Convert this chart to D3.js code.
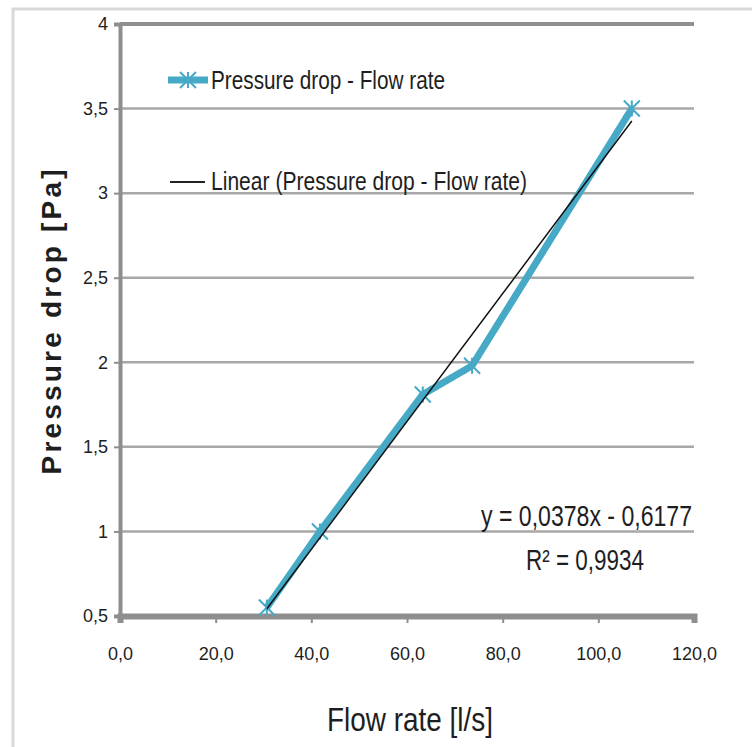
<!DOCTYPE html>
<html>
<head>
<meta charset="utf-8">
<style>
  body { margin: 0; background: #fff; }
  svg { display: block; }
  text { font-family: "Liberation Sans Narrow", "Liberation Sans", sans-serif; fill: #1e1e1e; }
</style>
</head>
<body>
<svg id="chart" width="752" height="747"></svg>
<script src="https://d3js.org/d3.v7.min.js"></script>
<script>
  // data
  const flowRate = [30.7, 41.8, 63.3, 73.6, 107.0];
  const pressureDrop = [0.55, 1.0, 1.81, 1.98, 3.5];
  const xTicks = [0, 20, 40, 60, 80, 100, 120];
  const yTicks = [0.5, 1, 1.5, 2, 2.5, 3, 3.5, 4];
  const trendSlope = 0.0378;
  const trendIntercept = -0.6177;
  const rSquared = 0.9934;
  const seriesName = 'Pressure drop - Flow rate';

  const teal = '#46a9c6';
  const axisGrey = '#8e8e8e';
  const gridGrey = '#a8a8a8';
  const comma = s => s.replace('.', ',');

  const svg = d3.select('#chart');

  // outer frame of the chart object
  svg.append('rect')
      .attr('x', 13).attr('y', 9).attr('width', 760).attr('height', 760)
      .attr('fill', '#fff').attr('stroke', '#d9d9d9').attr('stroke-width', 3);

  const x = d3.scaleLinear().domain([0, 120]).range([120, 694]);
  const y = d3.scaleLinear().domain([0.5, 4]).range([616, 24]);

  // gridlines
  svg.append('g').selectAll('line')
      .data(yTicks.filter(d => d > 0.5))
      .enter().append('line')
      .attr('x1', x(0)).attr('x2', x(120))
      .attr('y1', d => y(d)).attr('y2', d => y(d))
      .attr('stroke', d => d === 4 ? axisGrey : gridGrey)
      .attr('stroke-width', d => d === 4 ? 4 : 2.5);

  // y axis
  const yAxis = svg.append('g')
      .attr('transform', `translate(${x(0)},0)`)
      .call(d3.axisLeft(y).tickValues(yTicks).tickSize(6).tickPadding(6)
          .tickFormat(d => comma(d3.format('~g')(d))));
  yAxis.select('.domain').attr('stroke', axisGrey).attr('stroke-width', 4);
  yAxis.selectAll('.tick line').attr('stroke', axisGrey).attr('stroke-width', 2);
  yAxis.selectAll('.tick text').attr('font-size', 18).attr('fill', '#333')
      .attr('font-family', '"Liberation Sans Narrow", "Liberation Sans", sans-serif');

  // x axis
  const xAxis = svg.append('g')
      .attr('transform', `translate(0,${y(0.5)})`)
      .call(d3.axisBottom(x).tickValues(xTicks).tickSize(7).tickPadding(24)
          .tickFormat(d => comma(d3.format('.1f')(d))));
  xAxis.select('.domain').attr('stroke', axisGrey).attr('stroke-width', 6);
  xAxis.selectAll('.tick line').attr('stroke', axisGrey).attr('stroke-width', 2);
  xAxis.selectAll('.tick text').attr('font-size', 18).attr('fill', '#333')
      .attr('font-family', '"Liberation Sans Narrow", "Liberation Sans", sans-serif');

  // series line
  const points = flowRate.map((f, i) => ({ f, p: pressureDrop[i] }));
  const line = d3.line().x(d => x(d.f)).y(d => y(d.p));

  svg.append('path')
      .datum(points)
      .attr('fill', 'none')
      .attr('stroke', teal)
      .attr('stroke-width', 7)
      .attr('stroke-linejoin', 'round')
      .attr('d', line);

  // star markers
  const star = s => `M${-s},${-s}L${s},${s}M${-s},${s}L${s},${-s}M0,${-s}L0,${s}`;
  svg.append('g').selectAll('path')
      .data(points)
      .enter().append('path')
      .attr('transform', d => `translate(${x(d.f)},${y(d.p)})`)
      .attr('d', star(8))
      .attr('stroke', teal)
      .attr('stroke-width', 2)
      .attr('fill', 'none');

  // linear trendline
  const xr = d3.extent(flowRate);
  svg.append('path')
      .datum(xr.map(f => ({ f, p: trendSlope * f + trendIntercept })))
      .attr('fill', 'none')
      .attr('stroke', '#111')
      .attr('stroke-width', 1.5)
      .attr('d', line);

  // legend
  svg.append('line').attr('x1', 168).attr('x2', 208).attr('y1', 80).attr('y2', 80)
      .attr('stroke', teal).attr('stroke-width', 7);
  svg.append('path').attr('transform', 'translate(188,80)').attr('d', star(8))
      .attr('stroke', teal).attr('stroke-width', 2);
  svg.append('text').attr('x', 211).attr('y', 89)
      .attr('font-size', 26).attr('textLength', 234).attr('lengthAdjust', 'spacingAndGlyphs')
      .text(seriesName);

  svg.append('line').attr('x1', 170).attr('x2', 205).attr('y1', 182).attr('y2', 182)
      .attr('stroke', '#222').attr('stroke-width', 2);
  svg.append('text').attr('x', 211).attr('y', 190)
      .attr('font-size', 26).attr('textLength', 316).attr('lengthAdjust', 'spacingAndGlyphs')
      .text(`Linear (${seriesName})`);

  // trendline equation
  svg.append('text').attr('x', 481).attr('y', 526)
      .attr('font-size', 29).attr('textLength', 211).attr('lengthAdjust', 'spacingAndGlyphs')
      .text(`y = ${comma(String(trendSlope))}x - ${comma(String(-trendIntercept))}`);
  svg.append('text').attr('x', 526).attr('y', 570)
      .attr('font-size', 29).attr('textLength', 118).attr('lengthAdjust', 'spacingAndGlyphs')
      .text(`R² = ${comma(String(rSquared))}`);

  // axis titles
  svg.append('text')
      .attr('transform', 'translate(61,322) rotate(-90)')
      .attr('text-anchor', 'middle')
      .attr('font-family', '"Liberation Sans", sans-serif')
      .attr('font-weight', 'bold').attr('font-size', 28).attr('fill', '#000')
      .attr('textLength', 305).attr('lengthAdjust', 'spacing')
      .text('Pressure drop [Pa]');

  svg.append('text')
      .attr('x', 327).attr('y', 731)
      .attr('font-size', 33).attr('fill', '#111')
      .attr('textLength', 166).attr('lengthAdjust', 'spacingAndGlyphs')
      .text('Flow rate [l/s]');
</script>
</body>
</html>
